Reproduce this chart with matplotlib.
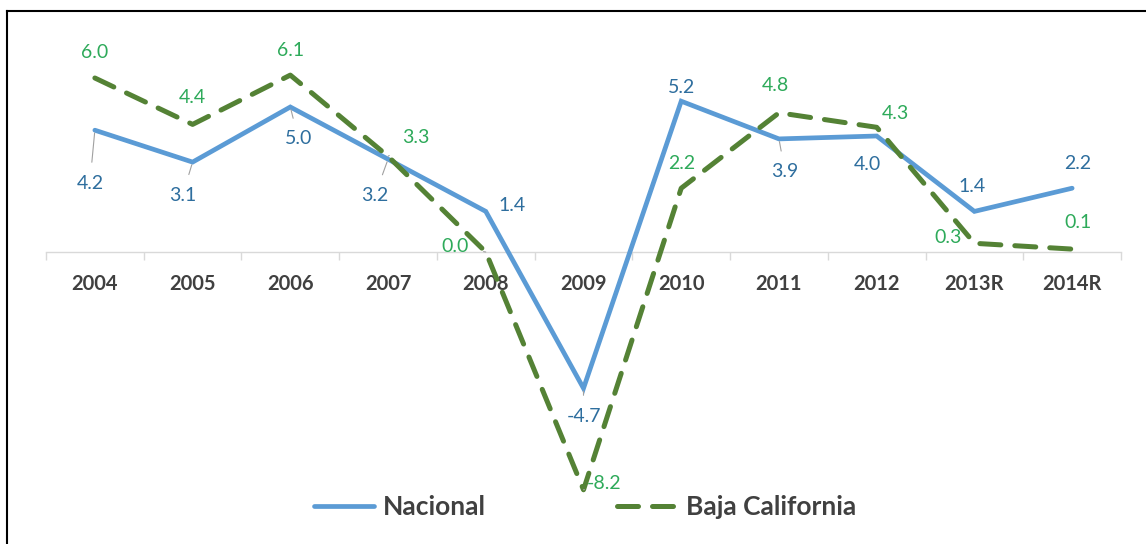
import matplotlib
matplotlib.use("Agg")
import matplotlib.pyplot as plt
from matplotlib.lines import Line2D

categories = ["2004", "2005", "2006", "2007", "2008", "2009", "2010", "2011", "2012", "2013R", "2014R"]
nacional = [4.2, 3.1, 5.0, 3.2, 1.4, -4.7, 5.2, 3.9, 4.0, 1.4, 2.2]
baja = [6.0, 4.4, 6.1, 3.3, 0.0, -8.2, 2.2, 4.8, 4.3, 0.3, 0.1]

# label offsets in pixels (dx, dy), and whether a leader line is drawn
nac_off = [(-5, -53), (-10, -33), (8, -32), (-13, -36), (26, 6), (0, -28),
           (0, 14), (6, -33), (-9, -29), (-2, 25), (6, 25)]
nac_lead = [True, True, True, True, False, True, False, True, False, False, False]
baja_off = [(0, 25), (0, 27), (0, 25), (28, 19), (-31, 5), (21, 6),
            (0, 25), (-4, 27), (19, 14), (-26, 6), (6, 27)]
baja_lead = [False, False, False, True, True, True, False, False, False, False, False]

plt.rcParams['font.family'] = ['Lato', 'DejaVu Sans']

W, H = 1146, 544
fig = plt.figure(figsize=(W / 100, H / 100), dpi=100)

y0 = 252
ppu = 29.0
ytop, ybot = 7.5, -9.0
top_px = y0 - ytop * ppu
bot_px = y0 - ybot * ppu
left_px, right_px = 46, 1121
ax = fig.add_axes([left_px / W, 1 - bot_px / H, (right_px - left_px) / W, (bot_px - top_px) / H])
ax.set_xlim(-0.5, len(categories) - 0.5)
ax.set_ylim(ybot, ytop)

x = list(range(len(categories)))
blue = "#5B9BD5"
green = "#548235"
blue_txt = "#2E6E9E"
green_txt = "#2EAA5A"

ax.plot(x, nacional, color=blue, lw=3.4, solid_capstyle='round', solid_joinstyle='miter', label="Nacional", zorder=3)
ax.plot(x, baja, color=green, lw=3.6, linestyle=(0, (4.2, 2.8)), dash_capstyle='round', label="Baja California", zorder=3)

for i in x:
    dx, dy = nac_off[i]
    ap = dict(arrowstyle='-', color='#A0A0A0', lw=0.8, shrinkA=7, shrinkB=2) if nac_lead[i] else None
    ax.annotate(f"{nacional[i]:.1f}", (i, nacional[i]), xytext=(dx, dy), textcoords='offset pixels',
                ha='center', va='center', fontsize=14, color=blue_txt, arrowprops=ap, zorder=4)
    dx, dy = baja_off[i]
    ap = dict(arrowstyle='-', color='#A0A0A0', lw=0.8, shrinkA=9, shrinkB=2) if baja_lead[i] else None
    ax.annotate(f"{baja[i]:.1f}", (i, baja[i]), xytext=(dx, dy), textcoords='offset pixels',
                ha='center', va='center', fontsize=14, color=green_txt, arrowprops=ap, zorder=4)

for s in ['top', 'right', 'left']:
    ax.spines[s].set_visible(False)
ax.spines['bottom'].set_position(('data', 0))
ax.spines['bottom'].set_color('#D9D9D9')
ax.spines['bottom'].set_linewidth(1.0)
ax.spines['bottom'].set_zorder(1)
ax.set_yticks([])
ax.set_xticks(x)
ax.set_xticklabels(categories, fontsize=14.5, fontweight='bold', color='#404040')
ax.tick_params(axis='x', which='major', length=0, pad=16)
ax.set_xticks([i - 0.5 for i in range(len(categories) + 1)], minor=True)
ax.tick_params(axis='x', which='minor', length=6, color='#D9D9D9', width=1.0, direction='out')

leg = fig.legend(loc='center', bbox_to_anchor=(585 / W, 1 - 507 / H), ncol=2, frameon=False,
                 fontsize=19, columnspacing=5.0, handlelength=2.3, handletextpad=0.3)
for t in leg.get_texts():
    t.set_color('#404040')
    t.set_fontweight('bold')

fig.add_artist(Line2D([7 / W, 7 / W], [0, 1 - 11 / H], color='black', lw=1.5, transform=fig.transFigure))
fig.add_artist(Line2D([7 / W, 1], [1 - 11 / H, 1 - 11 / H], color='black', lw=1.5, transform=fig.transFigure))

fig.savefig("out.png", dpi=100)
